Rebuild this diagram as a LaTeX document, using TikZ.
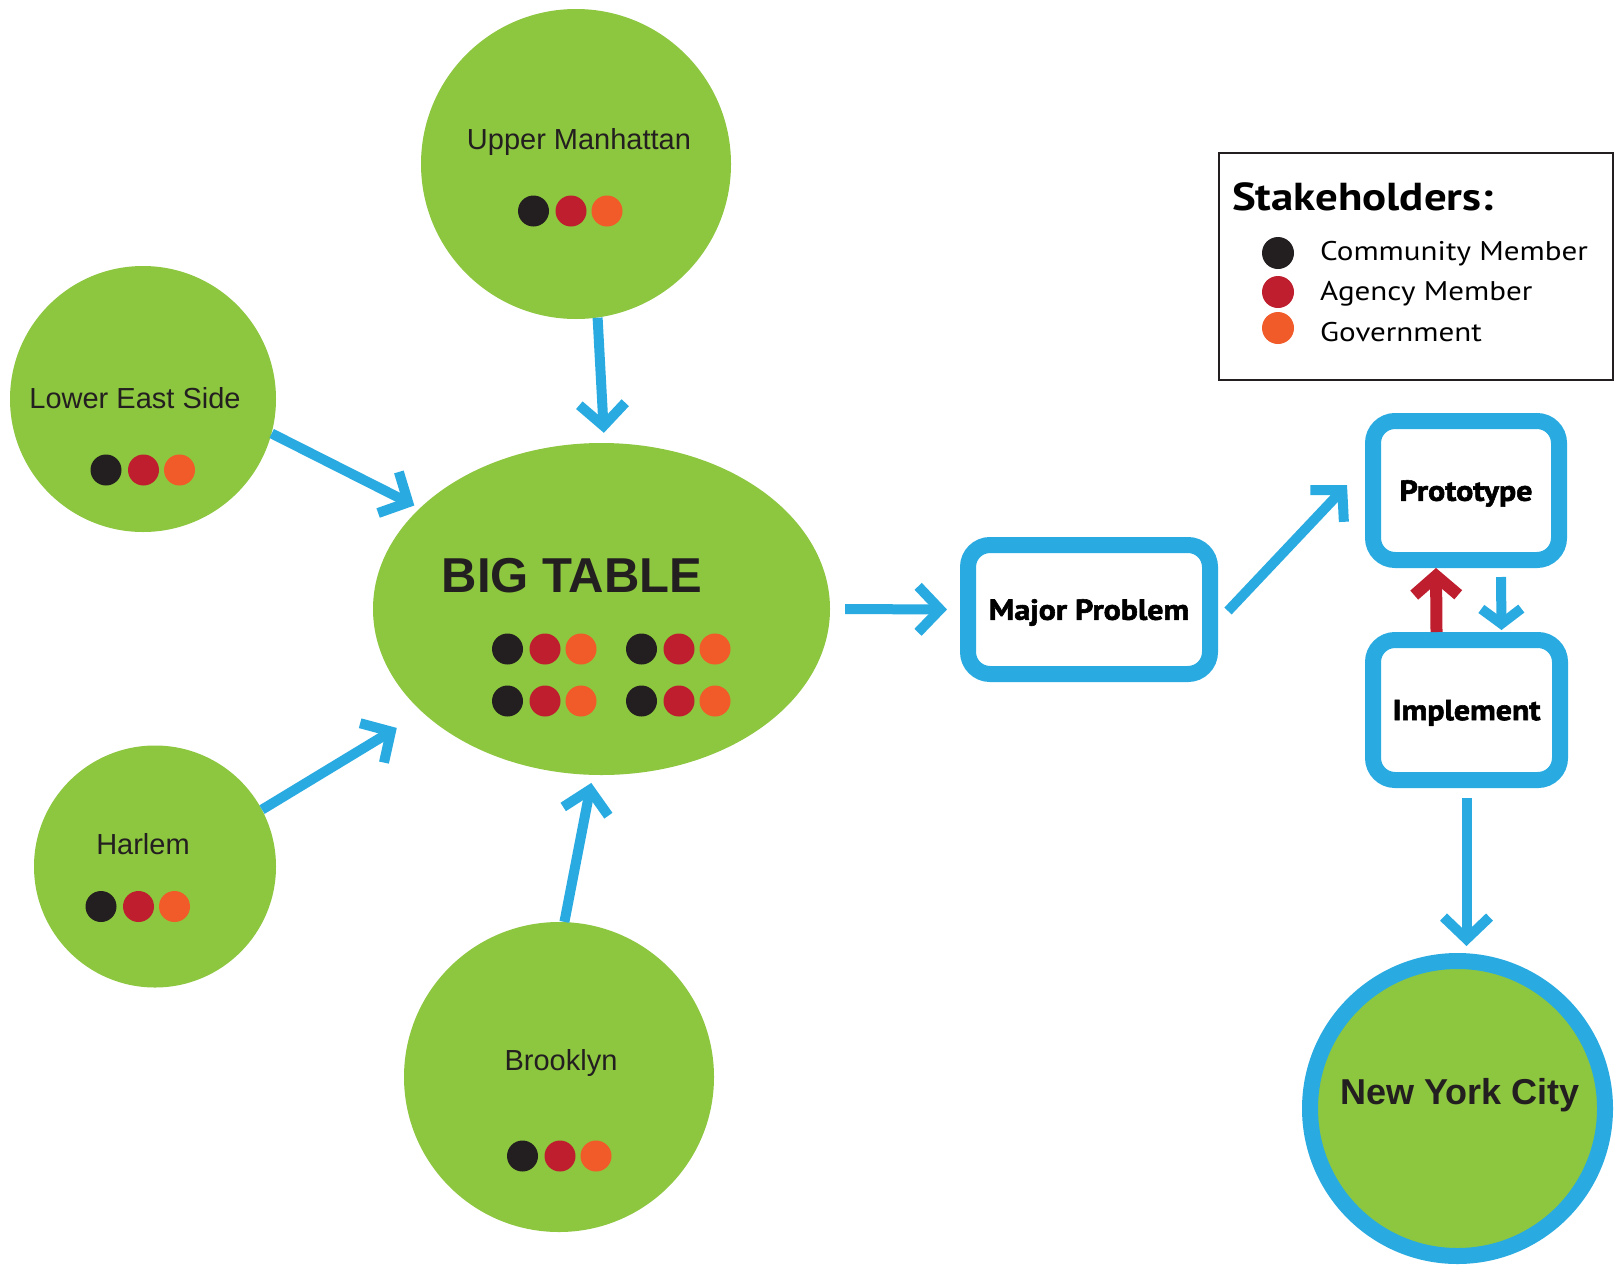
\documentclass[tikz,border=0pt]{standalone}
\usepackage{fontspec}
\setmainfont{Liberation Sans}
\newfontfamily\legfont[FakeStretch=1.15]{PT Sans}
\newfontfamily\boxfont[FakeStretch=1.1,FakeBold=2]{PT Sans Bold}
\usetikzlibrary{shapes.geometric,arrows.meta,calc}
\definecolor{cgreen}{HTML}{8DC63F}
\definecolor{cblue}{HTML}{29ABE2}
\definecolor{cred}{HTML}{BE1E2D}
\definecolor{corange}{HTML}{F15A29}
\definecolor{cblack}{HTML}{231F20}
\newcommand\stkdots[2]{%
  \fill[cblack]  (#1-37.5,#2) circle[radius=15.5pt];
  \fill[cred]    (#1,#2)      circle[radius=15.5pt];
  \fill[corange] (#1+36,#2)   circle[radius=15.5pt];
}
\tikzset{
  region/.style={circle, fill=cgreen, inner sep=0pt, minimum size=#1},
  ctext/.style={font=\fontsize{29}{34}\selectfont, text=cblack, inner sep=0pt},
  stepbox/.style={draw=cblue, line width=16pt, rounded corners=22pt, fill=white,
    inner sep=0pt, text depth=0pt, font=\boxfont\fontsize{29}{32}\selectfont, text=black},
  barr/.style={draw=cblue, line width=10pt, -{Straight Barb[length=22pt,width=46pt]}},
  rarr/.style={draw=cred, line width=12pt, -{Straight Barb[length=19pt,width=44pt]}},
  legtext/.style={anchor=base west, inner sep=0pt, font=\legfont\fontsize{27}{30}\selectfont, text=black},
}
\begin{document}
\begin{tikzpicture}[x=1pt,y=-1pt]
\useasboundingbox[fill=white] (0,0) rectangle (1621,1266);

% green regions
\node[region=310pt] (um) at (576,164) {};
\node[region=266pt] (les) at (143,399) {};
\node[region=242pt] (harlem) at (155,866.5) {};
\node[region=310pt] (brooklyn) at (559,1077) {};
\node[ellipse, fill=cgreen, inner sep=0pt, minimum width=457pt, minimum height=332pt] (bt) at (601.5,609) {};

% region texts
\node[ctext] (umt) at (579,142) {Upper Manhattan};
\node[ctext] (lest) at (135,398) {Lower East Side};
\node[ctext] (harlemt) at (143,844) {Harlem};
\node[ctext] (brooklynt) at (561,1063) {Brooklyn};
\node[inner sep=0pt, text=cblack, font=\bfseries\fontsize{49}{52}\selectfont] (btt) at (572,576) {BIG TABLE};

% stakeholder dots
\stkdots{571}{211}
\stkdots{143.5}{470}
\stkdots{138.5}{906.5}
\stkdots{560}{1156}
\stkdots{545}{649}
\stkdots{679}{649}
\stkdots{545}{701}
\stkdots{679}{701}

% process boxes
\node[stepbox, minimum width=242pt, minimum height=129pt] (mp) at (1089,609.5) {Major Problem};
\node[stepbox, minimum width=186pt, minimum height=139pt] (proto) at (1466,490.5) {Prototype};
\node[stepbox, minimum width=187pt, minimum height=140pt] (impl) at (1466.5,710) {Implement};

% New York City
\node[circle, draw=cblue, line width=16pt, fill=cgreen, inner sep=0pt, minimum size=295pt] (nyc) at (1457.5,1108.5) {};
\node[inner sep=0pt, text=cblack, font=\bfseries\fontsize{36}{40}\selectfont] (nyct) at (1460,1095) {New York City};

% arrows
\draw[barr, shorten >=10pt] (um.-82) -- (bt.89.5);
\draw[barr, shorten >=6pt] (les.-15) -- (bt.151);
\draw[barr, shorten >=30pt] (harlem.28) -- (bt.210);
\draw[barr, shorten >=8pt] (brooklyn.88) -- (bt.-93);
\draw[barr, shorten <=15pt, shorten >=13pt] (bt.east) -- (mp.west);
\draw[barr] ($(mp.east)+(10,1.5)$) -- ($(proto.west)+(-18,-5.5)$);
\draw[barr, -{Straight Barb[length=15pt,width=40pt]}] ($(proto.south)+(35,9)$) -- ($(impl.north)+(35,-2)$);
\draw[rarr] ($(impl.north)+(-30,0)$) -- ($(proto.south)+(-30,0)$);
\draw[barr, shorten <=10pt, shorten >=7pt] (impl.south) -- (impl.south |- nyc.north);

% legend
\node[draw=cblack, line width=2pt, inner sep=0pt, minimum width=394pt, minimum height=227pt] (leg) at (1416,266.5) {};
\node[anchor=base west, inner sep=0pt, font=\legfont\bfseries\fontsize{39}{42}\selectfont, text=black] (legt) at (1232,210) {Stakeholders:};
\fill[cblack]  (1278,253) circle[radius=16pt];
\fill[cred]    (1278,292) circle[radius=16pt];
\fill[corange] (1278,328) circle[radius=16pt];
\node[legtext] (leg1) at (1320,260) {Community Member};
\node[legtext] (leg2) at (1320,300) {Agency Member};
\node[legtext] (leg3) at (1320,341) {Government};
\end{tikzpicture}
\end{document}
